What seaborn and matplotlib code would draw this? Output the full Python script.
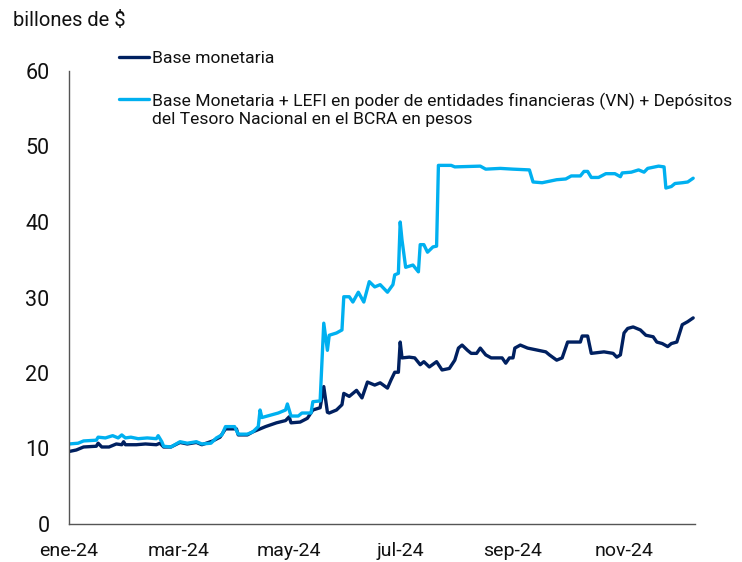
"""
Base monetaria vs. base monetaria ampliada (LEFI + depósitos del Tesoro), 2024
Valores leídos a ojo del gráfico original, en billones de pesos.
"""
import pandas as pd
import matplotlib
matplotlib.use("Agg")
import matplotlib.pyplot as plt
import seaborn as sns

sns.set_theme(style="white")
plt.rcParams["font.family"] = ["Roboto", "DejaVu Sans"]

NAVY = "#002060"
CELESTE = "#00B0F0"

# ---------- datos ----------
base_fechas = [
    "2024-01-01", "2024-01-05", "2024-01-09", "2024-01-16", "2024-01-17", "2024-01-19",
    "2024-01-23", "2024-01-27", "2024-01-30", "2024-01-31", "2024-02-01", "2024-02-07",
    "2024-02-12", "2024-02-18", "2024-02-20", "2024-02-22", "2024-02-26", "2024-03-02",
    "2024-03-06", "2024-03-11", "2024-03-14", "2024-03-20", "2024-03-24", "2024-03-27",
    "2024-04-02", "2024-04-03", "2024-04-08", "2024-04-11", "2024-04-15", "2024-04-18",
    "2024-04-24", "2024-04-29", "2024-05-01", "2024-05-02", "2024-05-07", "2024-05-11",
    "2024-05-14", "2024-05-18", "2024-05-20", "2024-05-22", "2024-05-23", "2024-05-27",
    "2024-05-30", "2024-05-31", "2024-06-03", "2024-06-07", "2024-06-10", "2024-06-13",
    "2024-06-17", "2024-06-20", "2024-06-24", "2024-06-26", "2024-06-28", "2024-06-30",
    "2024-07-01", "2024-07-02", "2024-07-06", "2024-07-09", "2024-07-12", "2024-07-14",
    "2024-07-17", "2024-07-21", "2024-07-24", "2024-07-28", "2024-07-31", "2024-08-02",
    "2024-08-04", "2024-08-07", "2024-08-09", "2024-08-12", "2024-08-14", "2024-08-17",
    "2024-08-20", "2024-08-26", "2024-08-28", "2024-08-30", "2024-09-01", "2024-09-02",
    "2024-09-05", "2024-09-09", "2024-09-15", "2024-09-19", "2024-09-21", "2024-09-25",
    "2024-09-28", "2024-10-01", "2024-10-08", "2024-10-09", "2024-10-12", "2024-10-14",
    "2024-10-21", "2024-10-26", "2024-10-28", "2024-10-30", "2024-11-01", "2024-11-03",
    "2024-11-06", "2024-11-10", "2024-11-13", "2024-11-17", "2024-11-19", "2024-11-22",
    "2024-11-25", "2024-11-27", "2024-11-30", "2024-12-03", "2024-12-06", "2024-12-09",
]
base_valores = [
    9.6, 9.8, 10.2, 10.3, 10.7, 10.2,
    10.2, 10.6, 10.5, 10.9, 10.5, 10.5,
    10.6, 10.5, 10.7, 10.2, 10.2, 10.8,
    10.6, 10.8, 10.5, 11.0, 11.5, 12.6,
    12.6, 11.8, 11.8, 12.2, 12.6, 12.9,
    13.4, 13.7, 14.2, 13.4, 13.5, 14.0,
    15.1, 15.4, 18.2, 14.8, 14.7, 15.1,
    15.8, 17.3, 16.9, 17.7, 16.7, 18.8,
    18.4, 18.7, 18.0, 19.1, 20.1, 20.1,
    24.1, 22.0, 22.1, 22.0, 21.1, 21.5,
    20.8, 21.5, 20.4, 20.6, 21.7, 23.3,
    23.7, 23.0, 22.6, 22.6, 23.3, 22.4,
    22.0, 22.0, 21.3, 22.0, 22.0, 23.3,
    23.7, 23.3, 23.0, 22.8, 22.4, 21.7,
    22.0, 24.1, 24.1, 24.9, 24.9, 22.6,
    22.8, 22.6, 22.1, 22.4, 25.3, 25.9,
    26.1, 25.7, 25.0, 24.8, 24.1, 23.9,
    23.5, 23.9, 24.1, 26.4, 26.8, 27.3,
]

ampliada_fechas = [
    "2024-01-01", "2024-01-06", "2024-01-09", "2024-01-16", "2024-01-17", "2024-01-21",
    "2024-01-25", "2024-01-28", "2024-01-30", "2024-02-01", "2024-02-04", "2024-02-08",
    "2024-02-13", "2024-02-18", "2024-02-19", "2024-02-21", "2024-02-22", "2024-02-26",
    "2024-03-02", "2024-03-06", "2024-03-11", "2024-03-14", "2024-03-19", "2024-03-22",
    "2024-03-25", "2024-03-27", "2024-04-01", "2024-04-03", "2024-04-08", "2024-04-11",
    "2024-04-14", "2024-04-15", "2024-04-16", "2024-04-19", "2024-04-25", "2024-04-29",
    "2024-04-30", "2024-05-02", "2024-05-06", "2024-05-08", "2024-05-13", "2024-05-14",
    "2024-05-18", "2024-05-20", "2024-05-22", "2024-05-23", "2024-05-27", "2024-05-30",
    "2024-05-31", "2024-06-03", "2024-06-05", "2024-06-08", "2024-06-11", "2024-06-14",
    "2024-06-17", "2024-06-20", "2024-06-24", "2024-06-27", "2024-06-28", "2024-06-30",
    "2024-07-01", "2024-07-02", "2024-07-04", "2024-07-08", "2024-07-11", "2024-07-12",
    "2024-07-14", "2024-07-16", "2024-07-19", "2024-07-21", "2024-07-22", "2024-07-29",
    "2024-07-31", "2024-08-14", "2024-08-17", "2024-08-25", "2024-09-01", "2024-09-10",
    "2024-09-12", "2024-09-17", "2024-09-25", "2024-09-30", "2024-10-03", "2024-10-08",
    "2024-10-10", "2024-10-12", "2024-10-14", "2024-10-18", "2024-10-22", "2024-10-27",
    "2024-10-30", "2024-10-31", "2024-11-05", "2024-11-09", "2024-11-12", "2024-11-14",
    "2024-11-20", "2024-11-23", "2024-11-24", "2024-11-27", "2024-11-29", "2024-12-03",
    "2024-12-06", "2024-12-09",
]
ampliada_valores = [
    10.6, 10.7, 11.0, 11.1, 11.5, 11.4,
    11.7, 11.4, 11.8, 11.4, 11.5, 11.3,
    11.4, 11.3, 11.7, 10.9, 10.3, 10.2,
    10.9, 10.7, 10.9, 10.6, 10.7, 11.4,
    11.8, 12.9, 12.9, 11.9, 11.9, 12.2,
    12.9, 15.1, 14.1, 14.3, 14.7, 15.1,
    15.9, 14.3, 14.3, 14.7, 14.7, 16.2,
    16.3, 26.6, 23.0, 25.0, 25.3, 25.7,
    30.1, 30.1, 29.4, 30.7, 29.4, 32.1,
    31.4, 31.7, 30.7, 31.7, 33.0, 33.2,
    40.0, 37.6, 34.0, 34.3, 33.4, 37.0,
    37.0, 36.0, 36.7, 36.8, 47.5, 47.5,
    47.3, 47.4, 47.0, 47.1, 47.0, 46.9,
    45.3, 45.2, 45.6, 45.7, 46.1, 46.1,
    46.7, 46.7, 45.9, 45.9, 46.4, 46.4,
    46.0, 46.5, 46.6, 46.9, 46.6, 47.1,
    47.4, 47.3, 44.5, 44.7, 45.1, 45.2,
    45.3, 45.8,
]

serie_base = "Base monetaria"
serie_ampliada = ("Base Monetaria + LEFI en poder de entidades financieras (VN) + Depósitos\n"
                  "del Tesoro Nacional en el BCRA en pesos")

tick_fechas = ["2024-01-01", "2024-03-01", "2024-05-01", "2024-07-01", "2024-09-01", "2024-11-01"]
tick_labels = ["ene-24", "mar-24", "may-24", "jul-24", "sep-24", "nov-24"]
y_ticks = [0, 10, 20, 30, 40, 50, 60]

df = pd.concat([
    pd.DataFrame({"fecha": pd.to_datetime(base_fechas), "valor": base_valores, "serie": serie_base}),
    pd.DataFrame({"fecha": pd.to_datetime(ampliada_fechas), "valor": ampliada_valores, "serie": serie_ampliada}),
])

# ---------- grafico ----------
fig = plt.figure(figsize=(7.42, 5.62), dpi=100)
ax = fig.add_axes([69 / 742, 1 - 524 / 562, 626 / 742, 453 / 562])

sns.lineplot(data=df, x="fecha", y="valor", hue="serie",
             hue_order=[serie_base, serie_ampliada],
             palette={serie_base: NAVY, serie_ampliada: CELESTE},
             linewidth=2.4, ax=ax)

ax.set_xlim(pd.Timestamp("2024-01-01"), pd.Timestamp("2024-12-10"))
ax.set_ylim(0, 60)
ax.set_xticks(pd.to_datetime(tick_fechas))
ax.set_xticklabels(tick_labels)
ax.set_yticks(y_ticks)
ax.set_xlabel("")
ax.set_ylabel("")

for side in ["top", "right"]:
    ax.spines[side].set_visible(False)
for side in ["left", "bottom"]:
    ax.spines[side].set_color("#555555")
    ax.spines[side].set_linewidth(1.0)

ax.tick_params(axis="x", direction="in", length=4.5, width=1.0, color="#555555",
               labelsize=14, pad=13, labelcolor="#111111")
ax.tick_params(axis="y", direction="in", length=5, width=1.0, color="#555555",
               labelsize=15.5, pad=14, labelcolor="#111111")

old = ax.get_legend()
handles = old.legend_handles
labels = [t.get_text() for t in old.get_texts()]
old.remove()
fs = 12.6
leg = ax.legend(handles, labels, loc="upper left", bbox_to_anchor=(119 / 742, 1 - 51 / 562),
                bbox_transform=fig.transFigure, frameon=False, fontsize=fs,
                handlelength=1.7, handletextpad=0.2, labelspacing=1.5,
                borderpad=0, borderaxespad=0)
for t in leg.get_texts():
    t.set_color("#111111")
    t.set_linespacing(1.2)
for h in leg.legend_handles:
    h.set_linewidth(2.4)
# la muestra de la segunda serie va a la altura de la primera linea de texto
h2 = leg.legend_handles[1]
h2.set_ydata(h2.get_ydata() + 0.6 * fs)

fig.text(13 / 742, 1 - 26 / 562, "billones de $", fontsize=14.5, va="baseline", ha="left",
         color="#111111")

plt.savefig("out.png", dpi=100)
plt.close()
